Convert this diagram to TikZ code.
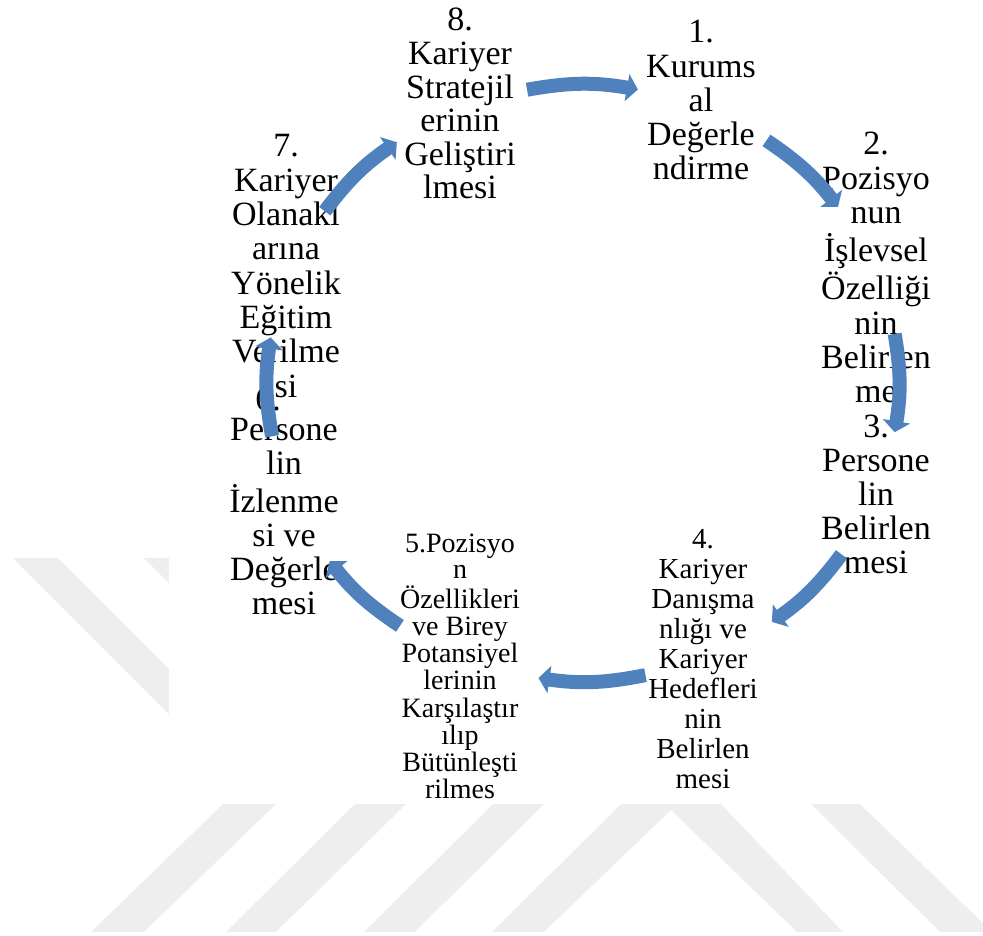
\documentclass[tikz,border=0pt]{standalone}
\usepackage{fontspec}
\setmainfont{Liberation Serif}
\usetikzlibrary{arrows.meta,calc}
\definecolor{arrowblue}{HTML}{4F81BD}
\definecolor{wmgray}{HTML}{EEEEEE}
\begin{document}
\begin{tikzpicture}[x=1pt,y=1pt,
  txt/.style={inner sep=0pt, anchor=base, text=black},
  cyc/.style={draw=arrowblue, line width=14pt, -{Triangle[width=27pt,length=11pt]}},
  wm/.style={fill=wmgray, draw=none}]
\useasboundingbox (0,0) rectangle (983,-936);
% watermark (faint background)
\fill[wm] (13,-558) -- (58,-558) -- (258,-758) -- (213,-758) -- cycle;
\fill[wm] (144,-558) -- (196,-558) -- (296,-658) -- (244,-658) -- cycle;
\fill[wm] (91,-932) -- (144,-932) -- (276,-804) -- (223,-804) -- cycle;
\fill[wm] (226,-932) -- (276,-932) -- (406,-804) -- (355,-804) -- cycle;
\fill[wm] (364,-932) -- (415,-932) -- (544,-804) -- (493,-804) -- cycle;
\fill[wm] (492,-932) -- (621,-804) -- (721,-804) -- (843,-932) -- (797,-932) -- (671,-810) -- (544,-932) -- cycle;
\fill[wm] (811,-804) -- (860,-804) -- (992,-932) -- (940,-932) -- cycle;
\fill[white] (169,0) rectangle (983,-803);
% text blocks
\node[txt, font=\fontsize{34}{33.5}\selectfont] (n8) at (460,-31)
  {\begin{tabular}[t]{@{}c@{}}8.\\Kariyer\\Stratejil\\erinin\\Geliştiri\\lmesi\end{tabular}};
\node[txt, font=\fontsize{34}{34.25}\selectfont] (n1) at (701,-43)
  {\begin{tabular}[t]{@{}c@{}}1.\\Kurums\\al\\Değerle\\ndirme\end{tabular}};
\node[txt, font=\fontsize{34}{34.3}\selectfont] (n2) at (876,-155)
  {\begin{tabular}[t]{@{}c@{}}2.\\Pozisyo\\nun\\İşlevsel\\Özelliği\\nin\\Belirlen\\me\end{tabular}};
\node[txt, font=\fontsize{34}{34}\selectfont] (n3) at (876,-437)
  {\begin{tabular}[t]{@{}c@{}}3.\\Persone\\lin\\Belirlen\\mesi\end{tabular}};
\node[txt, font=\fontsize{29}{30}\selectfont] (n4) at (703,-548)
  {\begin{tabular}[t]{@{}c@{}}4.\\Kariyer\\Danışma\\nlığı ve\\Kariyer\\Hedefleri\\nin\\Belirlen\\mesi\end{tabular}};
\node[txt, font=\fontsize{28}{26.2}\selectfont] (n5) at (460,-552)
  {\begin{tabular}[t]{@{}c@{}}5.Pozisyo\\n\\Özellikleri\\ve Birey\\Potansiyel\\lerinin\\Karşılaştır\\ılıp\\Bütünleşti\\rilmes\end{tabular}};
\node[txt, font=\fontsize{34}{34}\selectfont] (n6num) at (268,-410) {6.};
\node[txt, font=\fontsize{34}{34}\selectfont] (n6) at (284,-440)
  {\begin{tabular}[t]{@{}c@{}}Persone\\lin\\İzlenme\\si ve\\Değerle\\mesi\end{tabular}};
\node[txt, font=\fontsize{34}{34.3}\selectfont] (n7) at (286,-157)
  {\begin{tabular}[t]{@{}c@{}}7.\\Kariyer\\Olanakl\\arına\\Yönelik\\Eğitim\\Verilme\\si\end{tabular}};
% cycle arrows
\coordinate (c) at (583,-383);
\coordinate (a1s) at ($(c)+(100.2:316 and 298)$);
\coordinate (a1e) at ($(c)+(80:316 and 298)$);
\coordinate (a2s) at ($(c)+(54.5:316 and 298)$);
\coordinate (a2e) at ($(c)+(36.2:316 and 298)$);
\coordinate (a3s) at ($(c)+(9.5:316 and 298)$);
\coordinate (a3e) at ($(c)+(-9.5:316 and 298)$);
\coordinate (a4s) at ($(c)+(-35.1:316 and 298)$);
\coordinate (a4e) at ($(c)+(-53.3:316 and 298)$);
\coordinate (a5s) at ($(c)+(-78.6:316 and 298)$);
\coordinate (a5e) at ($(c)+(-98.1:316 and 298)$);
\coordinate (a6s) at ($(c)+(-125.4:316 and 298)$);
\coordinate (a6e) at ($(c)+(-143.3:316 and 298)$);
\coordinate (a7s) at ($(c)+(190.3:316 and 298)$);
\coordinate (a7e) at ($(c)+(171.2:316 and 298)$);
\coordinate (a8s) at ($(c)+(144.8:316 and 298)$);
\coordinate (a8e) at ($(c)+(126.1:316 and 298)$);
\draw[cyc] (a1s) to[bend left=10] (a1e);
\draw[cyc] (a2s) to[bend left=9] (a2e);
\draw[cyc] (a3s) to[bend left=9.5] (a3e);
\draw[cyc] (a4s) to[bend left=9] (a4e);
\draw[cyc] (a5s) to[bend left=9.7] (a5e);
\draw[cyc] (a6s) to[bend left=9] (a6e);
\draw[cyc] (a7s) to[bend left=9.5] (a7e);
\draw[cyc] (a8s) to[bend left=9.3] (a8e);
\end{tikzpicture}
\end{document}
